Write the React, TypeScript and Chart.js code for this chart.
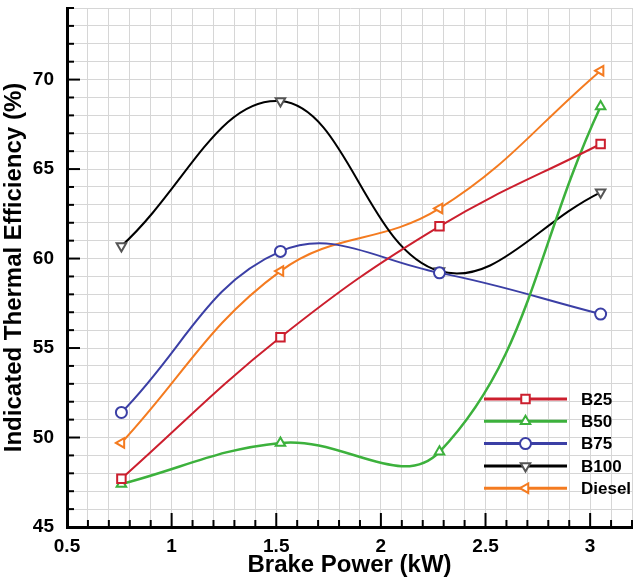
import React, { useEffect, useRef } from 'react';
import { Chart, registerables } from 'chart.js';
import { drawPoint } from 'chart.js/helpers';

Chart.register(...registerables);

// brake power (kW) at which each fuel was measured
const power = [0.76, 1.52, 2.28, 3.05];

const seriesNames = ['B25', 'B50', 'B75', 'B100', 'Diesel'];
const b25 = [47.7, 55.6, 61.8, 66.4];
const b50 = [47.4, 49.7, 49.2, 68.5];
const b75 = [51.4, 60.4, 59.2, 56.9];
const b100 = [60.7, 68.8, 59.3, 63.7];
const diesel = [49.7, 59.3, 62.8, 70.5];

const xMajorTicks = [0.5, 1, 1.5, 2, 2.5, 3];
const yMajorTicks = [45, 50, 55, 60, 65, 70];

const FONT = '"Liberation Sans", Arial, Helvetica, sans-serif';

const styles = [
  { line: '#cc1f2e', point: '#cc1f2e', shape: 'rect', rot: 0, r: 6 },
  { line: '#3cb13c', point: '#3cb13c', shape: 'triangle', rot: 0, r: 5.5 },
  { line: '#3b3fa5', point: '#3b3fa5', shape: 'circle', rot: 0, r: 5.5 },
  { line: '#000000', point: '#555555', shape: 'triangle', rot: 180, r: 5.5 },
  { line: '#f47b20', point: '#f47b20', shape: 'triangle', rot: -90, r: 5.5 },
];

const near = (v: number, list: number[]) => list.some((m) => Math.abs(m - v) < 1e-6);

// inward tick marks on the left and bottom axes
const innerTicks = {
  id: 'innerTicks',
  afterDatasetsDraw(chart: any) {
    const { ctx, chartArea, scales } = chart;
    ctx.save();
    ctx.strokeStyle = '#000';
    ctx.lineWidth = 2;
    scales.x.ticks.forEach((t: any) => {
      const px = scales.x.getPixelForValue(t.value);
      const len = near(t.value, xMajorTicks) ? 14 : 7;
      ctx.beginPath();
      ctx.moveTo(px, chartArea.bottom);
      ctx.lineTo(px, chartArea.bottom - len);
      ctx.stroke();
    });
    scales.y.ticks.forEach((t: any) => {
      const py = scales.y.getPixelForValue(t.value);
      const len = near(t.value, yMajorTicks) ? 13 : 7;
      ctx.beginPath();
      ctx.moveTo(chartArea.left, py);
      ctx.lineTo(chartArea.left + len, py);
      ctx.stroke();
    });
    ctx.restore();
  },
};

// legend drawn inside the plot, lower right
const insideLegend = {
  id: 'insideLegend',
  afterDraw(chart: any) {
    const { ctx } = chart;
    const x0 = 484;
    const x1 = 567;
    const top = 399;
    const gap = 22.3;
    ctx.save();
    chart.data.datasets.forEach((ds: any, i: number) => {
      const st = styles[i];
      const y = top + i * gap;
      ctx.strokeStyle = st.line;
      ctx.lineWidth = 3;
      ctx.beginPath();
      ctx.moveTo(x0, y);
      ctx.lineTo(x1, y);
      ctx.stroke();
      ctx.fillStyle = '#ffffff';
      ctx.strokeStyle = st.point;
      ctx.lineWidth = 2;
      drawPoint(ctx, { pointStyle: st.shape, rotation: st.rot, radius: st.r, borderWidth: 2 } as any, (x0 + x1) / 2, y);
      ctx.fillStyle = '#000';
      ctx.font = `bold 17px ${FONT}`;
      ctx.textBaseline = 'middle';
      ctx.textAlign = 'left';
      ctx.fillText(ds.label, 581, y + 1);
    });
    ctx.restore();
  },
};

export default function App() {
  const canvasRef = useRef<HTMLCanvasElement>(null);
  const chartRef = useRef<Chart | null>(null);

  useEffect(() => {
    document.body.style.margin = '0';
    if (!canvasRef.current) return;
    if (chartRef.current) chartRef.current.destroy();

    const values = [b25, b50, b75, b100, diesel];

    chartRef.current = new Chart(canvasRef.current, {
      type: 'line',
      data: {
        datasets: values.map((vals, i) => ({
          label: seriesNames[i],
          data: vals.map((v, k) => ({ x: power[k], y: v })),
          borderColor: styles[i].line,
          borderWidth: i === 1 ? 2.5 : 2,
          tension: 0.4,
          pointStyle: styles[i].shape as any,
          pointRotation: styles[i].rot,
          pointRadius: styles[i].r,
          pointBorderWidth: 2,
          pointBorderColor: styles[i].point,
          pointBackgroundColor: '#ffffff',
          fill: false,
        })),
      },
      options: {
        animation: false,
        responsive: true,
        maintainAspectRatio: false,
        layout: { padding: { top: 6, right: 6, left: 0, bottom: 0 } },
        plugins: {
          legend: { display: false },
          tooltip: { enabled: false },
        },
        scales: {
          x: {
            type: 'linear',
            min: 0.5,
            max: 3.2,
            grid: { color: '#d6d6d6', lineWidth: 1, drawTicks: false },
            border: { color: '#000', width: 3 },
            ticks: {
              stepSize: 0.1,
              autoSkip: false,
              maxRotation: 0,
              padding: 8,
              color: '#000',
              font: { family: FONT, size: 19, weight: 'bold' },
              callback: (v: any) => (near(Number(v), xMajorTicks) ? String(Math.round(Number(v) * 10) / 10) : ''),
            },
            title: {
              display: true,
              text: 'Brake Power (kW)',
              color: '#000',
              font: { family: FONT, size: 24, weight: 'bold' },
              padding: { top: 0, bottom: 0 },
            },
            afterFit: (s: any) => {
              s.height = 53;
              s.paddingLeft = 0;
              s.paddingRight = 0;
            },
          },
          y: {
            min: 45,
            max: 74,
            grid: { color: '#d6d6d6', lineWidth: 1, drawTicks: false },
            border: { color: '#000', width: 3 },
            ticks: {
              stepSize: 1,
              autoSkip: false,
              padding: 13,
              color: '#000',
              font: { family: FONT, size: 19, weight: 'bold' },
              callback: (v: any) => (near(Number(v), yMajorTicks) ? String(Math.round(Number(v))) : ''),
            },
            title: {
              display: true,
              text: 'Indicated Thermal Efficiency (%)',
              color: '#000',
              font: { family: FONT, size: 24, weight: 'bold' },
              padding: { top: 0, bottom: 0 },
            },
            afterFit: (s: any) => {
              s.width = 67;
              s.paddingTop = 0;
              s.paddingBottom = 0;
            },
          },
        },
      },
      plugins: [innerTicks, insideLegend],
    });

    return () => {
      if (chartRef.current) {
        chartRef.current.destroy();
        chartRef.current = null;
      }
    };
  }, []);

  return (
    <div style={{ width: 640, height: 580, position: 'relative' }}>
      <canvas ref={canvasRef}></canvas>
    </div>
  );
}
